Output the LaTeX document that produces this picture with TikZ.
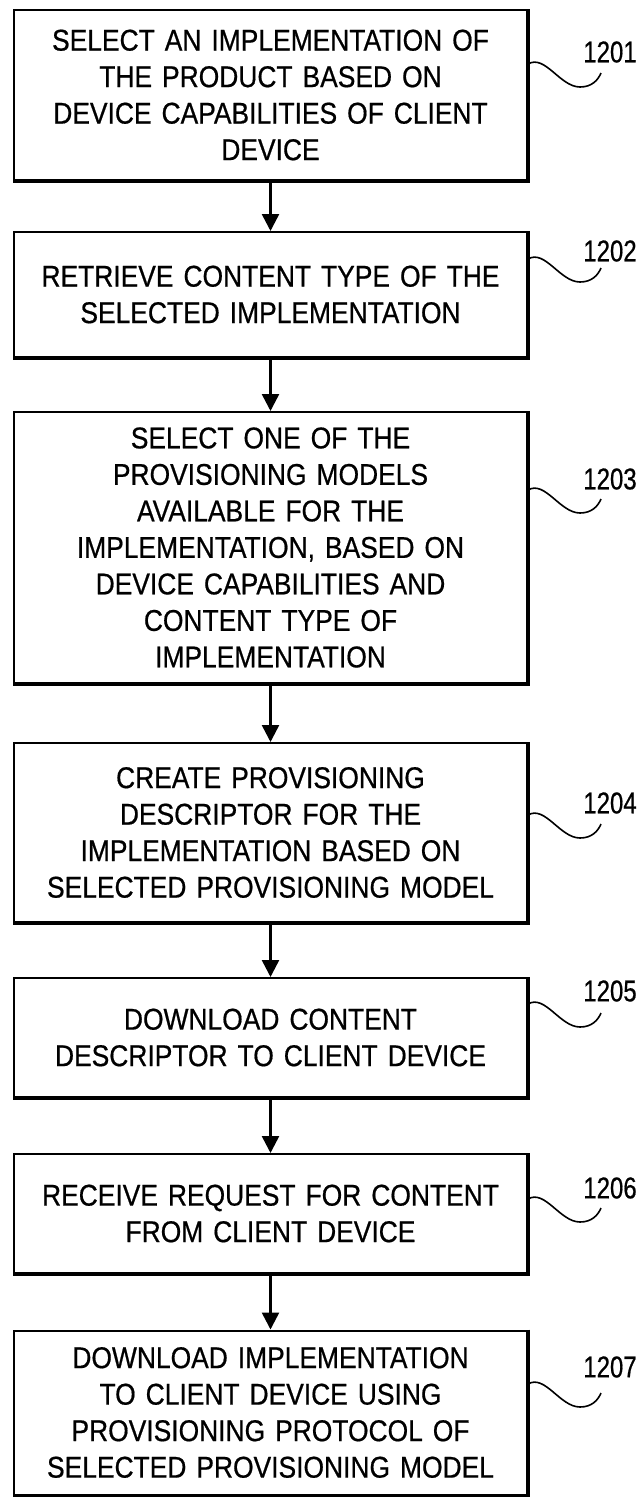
\documentclass[tikz,border=0pt]{standalone}
\usepackage{fontspec}
\setmainfont{Liberation Sans}[FakeStretch=0.88,FakeBold=0.6]
\newfontfamily\labfont{Liberation Sans}[FakeStretch=0.8,FakeBold=0.6]
\usetikzlibrary{arrows.meta,calc}
\begin{document}
\begin{tikzpicture}[x=1pt,y=-1pt,
  stepbox/.style={draw, line width=2pt, minimum width=513pt, inner sep=0pt,
    text width=505pt, align=center, font=\fontsize{30}{36.5}\selectfont},
  heavyedge/.style={line width=3.6pt},
  flow/.style={line width=2.5pt, -{Triangle[width=17pt,length=17pt]}},
  squig/.style={line width=1.6pt},
  reflab/.style={font=\labfont\fontsize{30}{36}\selectfont, inner sep=0pt}]
\fill[white] (0,0) rectangle (642,1497);
\useasboundingbox (0,0) rectangle (642,1497);

\node[stepbox, minimum height=170pt] (b1) at (270.5,95)
  {SELECT AN IMPLEMENTATION OF\\THE PRODUCT BASED ON\\DEVICE CAPABILITIES OF CLIENT\\DEVICE};
\node[stepbox, minimum height=125pt] (b2) at (270.5,294.5)
  {RETRIEVE CONTENT TYPE OF THE\\SELECTED IMPLEMENTATION};
\node[stepbox, minimum height=271pt] (b3) at (270.5,547.5)
  {SELECT ONE OF THE\\PROVISIONING MODELS\\AVAILABLE FOR THE\\IMPLEMENTATION, BASED ON\\DEVICE CAPABILITIES AND\\CONTENT TYPE OF\\IMPLEMENTATION};
\node[stepbox, minimum height=179pt] (b4) at (270.5,832.5)
  {CREATE PROVISIONING\\DESCRIPTOR FOR THE\\IMPLEMENTATION BASED ON\\SELECTED PROVISIONING MODEL};
\node[stepbox, minimum height=119pt] (b5) at (270.5,1037.5)
  {DOWNLOAD CONTENT\\DESCRIPTOR TO CLIENT DEVICE};
\node[stepbox, minimum height=119pt] (b6) at (270.5,1213.5)
  {RECEIVE REQUEST FOR CONTENT\\FROM CLIENT DEVICE};
\node[stepbox, minimum height=164pt] (b7) at (270.5,1412.5)
  {DOWNLOAD IMPLEMENTATION\\TO CLIENT DEVICE USING\\PROVISIONING PROTOCOL OF\\SELECTED PROVISIONING MODEL};

\foreach \b in {b1,b2,b3,b4,b5,b6,b7}
  \draw[heavyedge] (\b.north east) -- (\b.south east) -- (\b.south west);

\draw[flow] (b1.south) -- (b2.north);
\draw[flow] (b2.south) -- (b3.north);
\draw[flow] (b3.south) -- (b4.north);
\draw[flow] (b4.south) -- (b5.north);
\draw[flow] (b5.south) -- (b6.north);
\draw[flow] (b6.south) -- (b7.north);

\node[reflab] (l1) at (610,52) {1201};
\node[reflab] (l2) at (610,251) {1202};
\node[reflab] (l3) at (610,479) {1203};
\node[reflab] (l4) at (610,803) {1204};
\node[reflab] (l5) at (610,991) {1205};
\node[reflab] (l6) at (610,1188) {1206};
\node[reflab] (l7) at (610,1367) {1207};

\foreach \b/\t in {b1/87, b2/282, b3/513, b4/838, b5/1027, b6/1222, b7/1407}{
  \draw[squig] (\b.east |- 0,\t-23) .. controls (545,\t-33) and (560,\t) .. (580,\t)
     .. controls (592,\t) and (598,\t-7) .. (601,\t-14);
}
\end{tikzpicture}
\end{document}
